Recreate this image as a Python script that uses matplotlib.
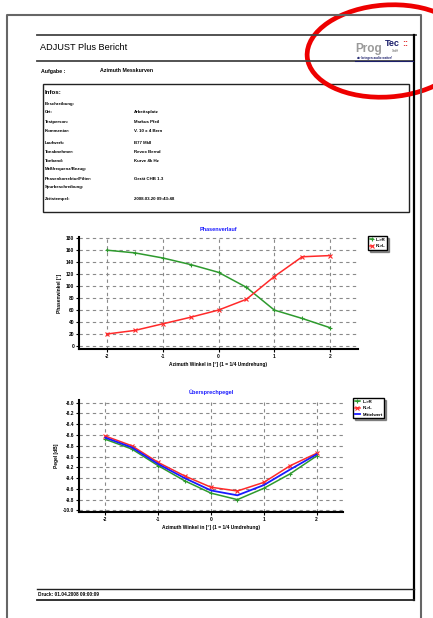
import numpy as np
import matplotlib
matplotlib.use('Agg')
import matplotlib.pyplot as plt
from matplotlib.patches import Rectangle, Ellipse

plt.rcParams['font.family'] = ['Liberation Sans', 'DejaVu Sans']

# Daten
azimut = [-2, -1.5, -1, -0.5, 0, 0.5, 1, 1.5, 2]
phase_lr = [160, 155.5, 147, 136, 123, 98, 60, 46, 30.5]
phase_rl = [20, 26, 37, 48, 60, 78, 116, 149, 151]
pegel_lr = [-8.68, -8.86, -9.17, -9.45, -9.68, -9.80, -9.59, -9.32, -8.99]
pegel_rl = [-8.62, -8.80, -9.11, -9.36, -9.57, -9.64, -9.48, -9.17, -8.94]
pegel_mw = [-8.65, -8.83, -9.14, -9.40, -9.63, -9.72, -9.53, -9.24, -8.96]

x_ticks = [-2, -1, 0, 1, 2]
phase_ticks = list(range(0, 181, 20))
pegel_ticks = [-8.0, -8.2, -8.4, -8.6, -8.8, -9.0, -9.2, -9.4, -9.6, -9.8, -10.0]

info_labels = ["Beschreibung:", "Ort:", "Testperson:", "Kommentar:", "Laufwerk:",
               "Tonabnehmer:", "Tonband:", "Meßfrequenz/Bezug:", "Phasenkorrektur/Filter:",
               "Spurbeschreibung:", "Zeitstempel:"]
info_values = ["", "Arbeitsplatz", "Markus Pfeil", "V. 10 x 4 Bern", "B77 MkII",
               "Revox Bernd", "Kurve 4k Hz", "", "Gerät CHB 1.3", "", "2008.03.20 09:43:48"]
info_y = [104, 112, 122, 131, 143, 152, 161, 169, 179, 187, 199]

W, H = 433, 618
fig = plt.figure(figsize=(W / 100, H / 100), dpi=100)
fig.patch.set_facecolor('white')

# Seite (Pixelkoordinaten)
pg = fig.add_axes([0, 0, 1, 1])
pg.set_xlim(0, W)
pg.set_ylim(H, 0)
pg.axis('off')

# Papierrand
pg.plot([7, 7, 421, 421], [H, 15, 15, H], color='#666666', lw=1.5)
# Rahmen
pg.plot([37, 416], [35, 35], color='#444444', lw=1.3)
pg.plot([37, 414], [61, 61], color='#444444', lw=1.3)
pg.plot([414, 414], [35, 600], color='black', lw=1.6)
pg.plot([37, 414], [589, 589], color='#222222', lw=1.0)
pg.plot([37, 414], [600, 600], color='#222222', lw=1.3)

pg.text(40, 48, "ADJUST Plus Bericht", fontsize=6.6, va='center', ha='left')
pg.text(41, 71, "Aufgabe :", fontsize=3.8, fontweight='bold', va='center')
pg.text(100, 71, "Azimuth Messkurven", fontsize=3.8, fontweight='bold', va='center')

# Infobox
pg.add_patch(Rectangle((43, 84), 366, 128, fill=False, ec='#222222', lw=1.0))
pg.text(45, 92, "Infos:", fontsize=4.4, fontweight='bold', va='center')
for lab, val, y in zip(info_labels, info_values, info_y):
    pg.text(45, y, lab, fontsize=3.2, fontweight='bold', va='center')
    pg.text(134, y, val, fontsize=3.2, fontweight='bold', va='center')

pg.text(38, 594.5, "Druck: 01.04.2008 09:00:09", fontsize=3.4, fontweight='bold', va='center')

# Logo
pg.text(355, 52, "Prog", fontsize=8.5, fontweight='bold', color='#9a9a9a', va='baseline')
pg.text(385, 46, "Tec", fontsize=6.5, fontweight='bold', color='#1b1f6b', va='baseline')
pg.text(402, 46, "::", fontsize=6.5, fontweight='bold', color='#e02020', va='baseline')
pg.text(392, 52, "GmbH", fontsize=1.8, color='#555555', va='baseline')
pg.text(356, 58.5, "wir bringen audio weiter!", fontsize=2.2, fontweight='bold',
        color='#1b1f6b', va='center')
pg.plot([355, 413], [60.5, 60.5], color='#1b1f6b', lw=0.8)

# Markierung
pg.add_patch(Ellipse((387, 51), 160, 92, angle=-4, fill=False, ec='#ee0000', lw=3.4))

tick_kw = dict(fontsize=3.5, fontweight='bold')


def setup_axes(ax):
    for s in ['top', 'right']:
        ax.spines[s].set_visible(False)
    ax.spines['left'].set_linewidth(1.5)
    ax.spines['bottom'].set_linewidth(1.5)
    ax.grid(True, color='#8a8a8a', linestyle=(0, (3, 3)), linewidth=0.8)
    ax.set_axisbelow(True)
    ax.tick_params(length=2, width=0.8, pad=1.5)
    ax.set_xlim(-2.5, 2.5)
    ax.set_xticks(x_ticks)
    ax.set_xticklabels([str(t) for t in x_ticks], **tick_kw)
    ax.set_xlabel("Azimuth Winkel in [°] (1 = 1/4 Umdrehung)", fontsize=3.5,
                  fontweight='bold', labelpad=2)


leg_kw = dict(bbox_transform=fig.transFigure, prop={'weight': 'bold', 'size': 3.2},
              frameon=True, fancybox=False, shadow={'ox': 1.2, 'oy': -1.2, 'color': '#333333'},
              edgecolor='black', borderpad=0.4, handletextpad=0.5, labelspacing=0.5,
              borderaxespad=0, markerscale=0.8, loc='upper left')

# Phasenverlauf
ax1 = fig.add_axes([79 / W, 1 - 349 / H, 279 / W, 112 / H])
setup_axes(ax1)
ax1.plot(azimut, phase_lr, color='#2e9a2e', lw=1.1, marker='+', ms=3.5, mew=0.8, label='L->R')
ax1.plot(azimut, phase_rl, color='#ff2a2a', lw=1.1, marker='x', ms=2.8, mew=0.8, label='R->L')
ax1.set_ylim(-5, 182)
ax1.set_yticks(phase_ticks)
ax1.set_yticklabels([str(t) for t in phase_ticks], **tick_kw)
ax1.set_ylabel("Phasenwinkel [°]", fontsize=3.5, fontweight='bold', labelpad=3)
ax1.set_title("Phasenverlauf", fontsize=4.0, fontweight='bold', color='#1a1aff', pad=4)
ax1.legend(bbox_to_anchor=(368 / W, 1 - 236 / H), handlelength=0.8, **leg_kw)

# Übersprechpegel
ax2 = fig.add_axes([79 / W, 1 - 512 / H, 264 / W, 112 / H])
setup_axes(ax2)
ax2.plot(azimut, pegel_lr, color='#2e9a2e', lw=1.1, marker='+', ms=3.5, mew=0.8, label='L->R')
ax2.plot(azimut, pegel_rl, color='#ff2a2a', lw=1.1, marker='x', ms=2.8, mew=0.8, label='R->L')
ax2.plot(azimut, pegel_mw, color='#1a1aff', lw=1.3, label='Mittelwert')
ax2.set_ylim(-10.03, -7.95)
ax2.set_yticks(pegel_ticks)
ax2.set_yticklabels(["%.1f" % t for t in pegel_ticks], **tick_kw)
ax2.set_ylabel("Pegel [dB]", fontsize=3.5, fontweight='bold', labelpad=3)
ax2.set_title("Übersprechpegel", fontsize=4.0, fontweight='bold', color='#1a1aff', pad=4)
ax2.legend(bbox_to_anchor=(353 / W, 1 - 398 / H), handlelength=1.2, **leg_kw)

fig.savefig('out.png', dpi=100)
